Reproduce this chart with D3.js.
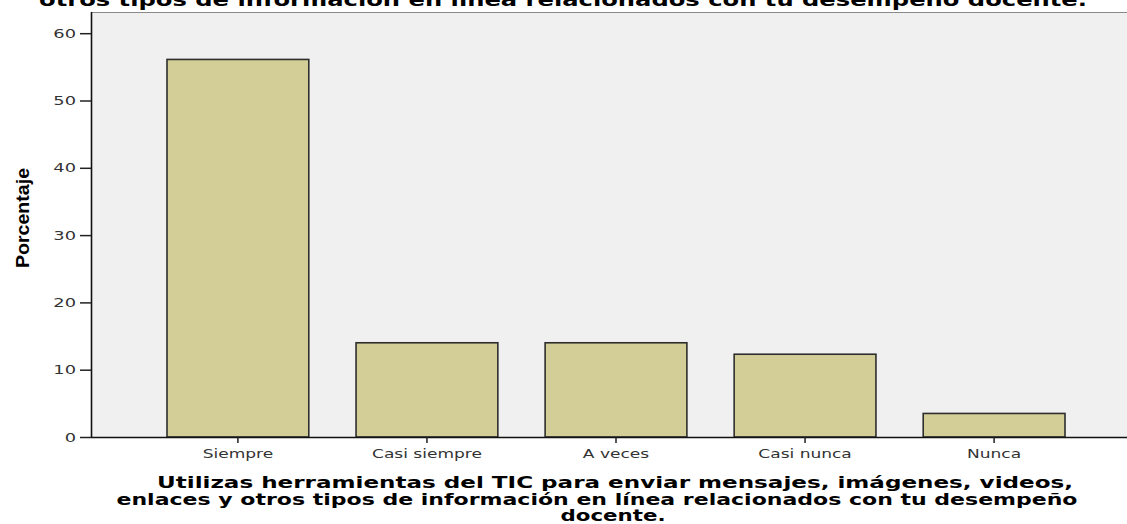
<!DOCTYPE html>
<html><head><meta charset="utf-8">
<script src="https://cdn.jsdelivr.net/npm/d3@7"></script>
<style>body{margin:0;background:#fff}svg{display:block}</style>
</head><body>
<svg id="c" width="1127" height="524"></svg>
<script>
const categories = ["Siempre", "Casi siempre", "A veces", "Casi nunca", "Nunca"];
const values = [56.1, 14.0, 14.0, 12.3, 3.5];
const yTicks = [0, 10, 20, 30, 40, 50, 60];
const titleVisible = "otros tipos de información en línea relacionados con tu desempeño docente.";
const xTitleLines = [
  "Utilizas herramientas del TIC para enviar mensajes, imágenes, videos,",
  "enlaces y otros tipos de información en línea relacionados con tu desempeño",
  "docente."
];
const yTitle = "Porcentaje";

const svg = d3.select("#c");
const W = 1127, H = 524;
const plot = {left: 91, top: 12, bottom: 437, right: 1141};

const x = d3.scaleBand().domain(categories).range([plot.left, plot.right])
  .paddingInner(0.25).paddingOuter(0.402);
const y = d3.scaleLinear().domain([0, 63.15]).range([plot.bottom, plot.top]);

svg.append("rect").attr("x", plot.left).attr("y", plot.top)
  .attr("width", plot.right - plot.left).attr("height", plot.bottom - plot.top)
  .attr("fill", "#f0f0f0");
svg.append("line").attr("x1", plot.left).attr("x2", W).attr("y1", plot.top + 0.5).attr("y2", plot.top + 0.5)
  .attr("stroke", "#8a8a8a").attr("stroke-width", 1);

function stretch(sel, f) {
  sel.each(function() {
    const l = this.getComputedTextLength();
    d3.select(this).attr("textLength", l * f).attr("lengthAdjust", "spacingAndGlyphs");
  });
}

svg.append("g").selectAll("rect").data(values).join("rect")
  .attr("x", (d, i) => x(categories[i]))
  .attr("y", d => y(d))
  .attr("width", x.bandwidth())
  .attr("height", d => y(0) - y(d))
  .attr("fill", "#d3ce97")
  .attr("stroke", "#2e2e2e")
  .attr("stroke-width", 1.6);

const yAxis = svg.append("g").attr("transform", `translate(${plot.left},0)`)
  .call(d3.axisLeft(y).tickValues(yTicks).tickSize(11).tickPadding(4).tickFormat(d3.format("d")));
yAxis.select(".domain").attr("d", `M0.5,${plot.top}V${plot.bottom}`).attr("stroke", "#111").attr("stroke-width", 1.6);
yAxis.selectAll(".tick line").attr("stroke", "#222").attr("stroke-width", 1.5);
yAxis.selectAll(".tick text").attr("font-family", "DejaVu Sans").attr("font-size", 11.5)
  .attr("fill", "#333").attr("dy", "0.36em").call(stretch, 1.55);

const xAxis = svg.append("g").attr("transform", `translate(0,${plot.bottom})`)
  .call(d3.axisBottom(x).tickSize(6).tickPadding(7));
xAxis.select(".domain").attr("d", `M${plot.left},0.5H${W}`).attr("stroke", "#111").attr("stroke-width", 1.6);
xAxis.selectAll(".tick line").attr("stroke", "#222").attr("stroke-width", 1.5);
xAxis.selectAll(".tick text").attr("font-family", "DejaVu Sans").attr("font-size", 11.5)
  .attr("fill", "#333").call(stretch, 1.48);

svg.append("text").attr("transform", "translate(29,218) rotate(-90)")
  .attr("text-anchor", "middle").attr("font-family", "Liberation Sans Narrow, Liberation Sans")
  .attr("font-weight", "bold").attr("font-size", 19).attr("fill", "#000")
  .attr("textLength", 100).attr("lengthAdjust", "spacingAndGlyphs")
  .text(yTitle);

const xCenters = [615, 597, 613];
const xWidths = [916, 961, 105];
svg.append("g").selectAll("text").data(xTitleLines).join("text")
  .attr("x", (d, i) => xCenters[i]).attr("y", (d, i) => 488 + i * 16.5)
  .attr("text-anchor", "middle").attr("font-family", "DejaVu Sans").attr("font-weight", "bold")
  .attr("font-size", 15).attr("fill", "#000")
  .attr("textLength", (d, i) => xWidths[i]).attr("lengthAdjust", "spacingAndGlyphs")
  .text(d => d);

svg.append("text").attr("x", 563).attr("y", 6).attr("text-anchor", "middle")
  .attr("font-family", "DejaVu Sans").attr("font-weight", "bold").attr("font-size", 18)
  .attr("fill", "#000").attr("textLength", 1048).attr("lengthAdjust", "spacingAndGlyphs")
  .text(titleVisible);
</script>
</body></html>
